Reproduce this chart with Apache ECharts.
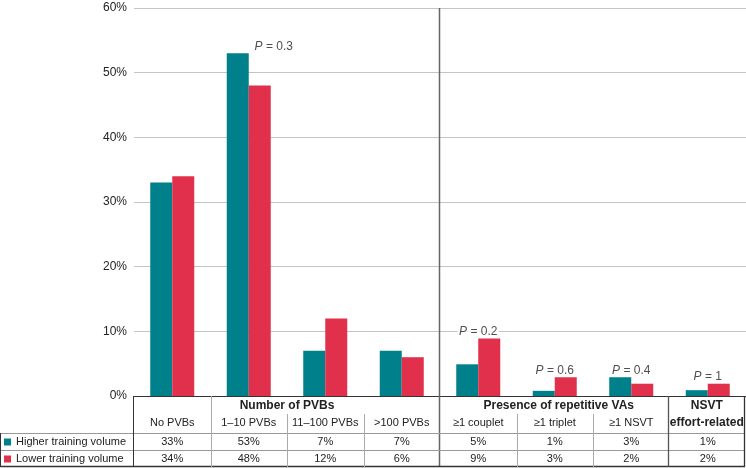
<!DOCTYPE html>
<html>
<head>
<meta charset="utf-8">
<script src="https://cdn.jsdelivr.net/npm/echarts@6/dist/echarts.min.js"></script>
<style>html,body{margin:0;padding:0;background:#fff;}#c{width:746px;height:468px;}</style>
</head>
<body>
<div id="c"></div>
<script>
// ---- data ----
const categories = ['No PVBs', '1–10 PVBs', '11–100 PVBs', '>100 PVBs', '≥1 couplet', '≥1 triplet', '≥1 NSVT', 'NSVT effort-related'];
const subLabels = ['No PVBs', '1–10 PVBs', '11–100 PVBs', '>100 PVBs', '≥1 couplet', '≥1 triplet', '≥1 NSVT', ''];
const higher = [33, 53, 7, 7, 4.9, 0.8, 2.9, 0.9];
const lower = [34, 48, 12, 6, 8.9, 2.9, 1.9, 1.9];
const higherTable = ['33%', '53%', '7%', '7%', '5%', '1%', '3%', '1%'];
const lowerTable = ['34%', '48%', '12%', '6%', '9%', '3%', '2%', '2%'];
const pValues = [null, '0.3', null, null, '0.2', '0.6', '0.4', '1'];
const groupNames = ['Number of PVBs', 'Presence of repetitive VAs', 'NSVT\neffort-related'];
const seriesNames = ['Higher training volume', 'Lower training volume'];
const yTicks = [0, 10, 20, 30, 40, 50, 60];

// ---- layout ----
const W = 746, H = 468;
const FONT = '"Liberation Sans", Arial, Helvetica, sans-serif';
const TEAL = '#00808B', RED = '#E0304B';
const gLeft = 134, gTop = 8, axisY = 396;
const colW = (W - gLeft) / categories.length;
const bx = i => gLeft + i * colW;

function line(x1, y1, x2, y2, color, w) {
  return { type: 'line', z: 10, silent: true, shape: { x1, y1, x2, y2 }, style: { stroke: color, lineWidth: w || 1 } };
}
function txt(x, y, s, opt) {
  return { type: 'text', z: 11, silent: true, x, y, style: Object.assign({ text: s, font: '12px ' + FONT, fill: '#222', align: 'center', verticalAlign: 'middle' }, opt || {}) };
}

const graphics = [
  // chart divider (continues through table)
  line(Math.round(bx(4)) - 0.5, gTop, Math.round(bx(4)) - 0.5, 467, '#666', 1.5),
  // table frame
  line(0, 433.5, 744, 433.5, '#999'),
  line(0, 450.5, 744, 450.5, '#999'),
  line(0, 466.5, 745, 466.5, '#333', 1.3),
  line(0.5, 433, 0.5, 467, '#333'),
  line(133.5, axisY, 133.5, 467, '#333'),
  line(744.5, axisY, 744.5, 467, '#333', 1.3),
  line(Math.round(bx(1)) + 0.5, axisY, Math.round(bx(1)) + 0.5, 467, '#aaa'),
  line(Math.round(bx(2)) + 0.5, 414, Math.round(bx(2)) + 0.5, 467, '#aaa'),
  line(Math.round(bx(3)) + 0.5, 414, Math.round(bx(3)) + 0.5, 467, '#aaa'),
  line(Math.round(bx(5)) + 0.5, 414, Math.round(bx(5)) + 0.5, 467, '#aaa'),
  line(Math.round(bx(6)) + 0.5, 414, Math.round(bx(6)) + 0.5, 467, '#aaa'),
  line(Math.round(bx(7)) - 1.5, axisY, Math.round(bx(7)) - 1.5, 467, '#555', 1.3),
  // group headers
  txt((bx(1) + bx(3)) / 2, 405.5, groupNames[0], { font: 'bold 12px ' + FONT }),
  txt((bx(4) + bx(7)) / 2 + 4, 405.5, groupNames[1], { font: 'bold 12px ' + FONT }),
  txt((bx(7) + W) / 2 - 1, 414, groupNames[2], { font: 'bold 12px ' + FONT, lineHeight: 17 })
];

const pData = [];
pValues.forEach((p, i) => {
  if (p === null) return;
  const item = { value: [categories[i], Math.max(higher[i], lower[i])], p: p };
  if (i === 1) item.label = { offset: [25, 0] };
  pData.push(item);
});

const chart = echarts.init(document.getElementById('c'), null, { renderer: 'canvas' });
chart.setOption({
  animation: false,
  backgroundColor: '#fff',
  textStyle: { fontFamily: FONT },
  grid: { left: gLeft, right: 0, top: gTop, bottom: H - axisY, containLabel: false },
  legend: {
    orient: 'vertical', left: 4, top: 435.5, padding: 0,
    itemWidth: 7, itemHeight: 7, itemGap: 4, icon: 'rect',
    selectedMode: false,
    textStyle: { fontSize: 11, color: '#222', lineHeight: 13, fontFamily: FONT },
    data: seriesNames
  },
  xAxis: [
    {
      type: 'category', data: categories,
      axisLine: { show: true, lineStyle: { color: '#333', width: 1 } },
      axisTick: { show: false },
      axisLabel: { interval: 0, margin: 27, verticalAlign: 'middle', fontSize: 11, color: '#222', fontFamily: FONT,
        formatter: (v, i) => subLabels[i] }
    },
    {
      type: 'category', data: categories, position: 'bottom',
      axisLine: { show: false }, axisTick: { show: false },
      axisLabel: { interval: 0, margin: 46, verticalAlign: 'middle', fontSize: 11, color: '#222', fontFamily: FONT,
        formatter: (v, i) => higherTable[i] }
    },
    {
      type: 'category', data: categories, position: 'bottom',
      axisLine: { show: false }, axisTick: { show: false },
      axisLabel: { interval: 0, margin: 63, verticalAlign: 'middle', fontSize: 11, color: '#222', fontFamily: FONT,
        formatter: (v, i) => lowerTable[i] }
    }
  ],
  yAxis: {
    type: 'value', min: yTicks[0], max: yTicks[yTicks.length - 1], interval: 10,
    axisLine: { show: false }, axisTick: { show: false },
    axisLabel: { margin: 7, fontSize: 12, color: '#222', fontFamily: FONT, formatter: '{value}%' },
    splitLine: { lineStyle: { color: '#c4c4c4', width: 1 } }
  },
  series: [
    { name: seriesNames[0], type: 'bar', data: higher, barWidth: 22, barGap: '0%', itemStyle: { color: TEAL } },
    { name: seriesNames[1], type: 'bar', data: lower, barWidth: 22, barGap: '0%', itemStyle: { color: RED } },
    {
      name: 'P', type: 'scatter', data: pData, symbolSize: 0, z: 5, silent: true,
      label: {
        show: true, position: 'top', distance: 1,
        backgroundColor: '#fff', padding: [0, 2],
        fontSize: 12, color: '#222', fontFamily: FONT,
        formatter: prm => '{i|P} = ' + prm.data.p,
        rich: { i: { fontStyle: 'italic', fontSize: 12, color: '#222', fontFamily: FONT } }
      }
    }
  ],
  graphic: graphics
});
</script>
</body>
</html>
